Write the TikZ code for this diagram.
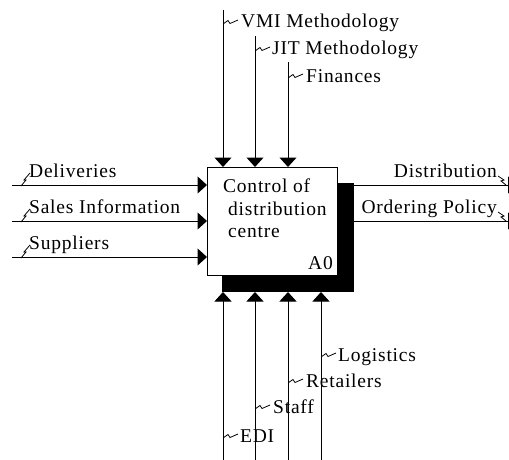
\documentclass[tikz,border=0pt]{standalone}
\usepackage{fontspec}
\setmainfont{Liberation Serif}[LetterSpace=4]
\usetikzlibrary{arrows.meta}
\begin{document}
\begin{tikzpicture}[x=1pt,y=-1pt,
  lbl/.style={font=\fontsize{19.5}{23}\selectfont, inner sep=0pt, anchor=base west},
  rlbl/.style={lbl, anchor=base east},
  flow/.style={line width=1pt, -{Triangle[length=9.5pt,width=17pt]}},
  sq/.style={line width=0.8pt},
  boxstyle/.style={draw=black, fill=white, line width=1pt, inner sep=0pt, outer sep=0pt,
                   minimum width=130pt, minimum height=108pt},
  shadowstyle/.style={fill=black, inner sep=0pt, outer sep=0pt,
                   minimum width=132pt, minimum height=109pt}
]
\clip (0,0) rectangle (509,460);
\fill[white] (0,0) rectangle (509,460);

% main box and its shadow
\node[boxstyle] (A0) at (272,221) {};
\coordinate (oi1) at (517.5,185);
\coordinate (oi2) at (517.5,221);
\draw[flow] (A0.east |- oi1) -- (oi1);
\draw[flow] (A0.east |- oi2) -- (oi2);
\node[shadowstyle] (sh) at (288,237.5) {};
\node[boxstyle] (box) at (272,221) {};

% box text
\node[lbl] (t1) at (223,192) {Control of};
\node[lbl] (t2) at (228,215) {distribution};
\node[lbl] (t3) at (228,237) {centre};
\node[rlbl] (t4) at (333,269) {A0};

% inputs (left)
\coordinate (li1) at (12,185);
\coordinate (li2) at (12,221);
\coordinate (li3) at (12,257);
\draw[flow] (li1) -- (box.west |- li1);
\draw[flow] (li2) -- (box.west |- li2);
\draw[flow] (li3) -- (box.west |- li3);
\node[lbl] (l1) at (29,177) {Deliveries};
\node[lbl] (l2) at (29,213) {Sales Information};
\node[lbl] (l3) at (29,249) {Suppliers};
\foreach \Y in {185,221,257}{
  \draw[sq] (21,\Y+1) -- (26,\Y-5) -- (24,\Y-5) -- (30,\Y-12);
}

% controls (top)
\coordinate (ci1) at (223,10);
\coordinate (ci2) at (255,36);
\coordinate (ci3) at (288,62);
\draw[flow] (ci1) -- (ci1 |- box.north);
\draw[flow] (ci2) -- (ci2 |- box.north);
\draw[flow] (ci3) -- (ci3 |- box.north);
\node[lbl] (c1) at (241,28) {VMI Methodology};
\node[lbl] (c2) at (272,55) {JIT Methodology};
\node[lbl] (c3) at (306,82) {Finances};
\foreach \X/\B in {223/28,255/55,288/82}{
  \draw[sq] (\X,\B-4) -- (\X+5,\B-7.5) -- (\X+7,\B-4.5) -- (\X+15,\B-8);
}

% outputs (right)
\node[rlbl] (o1) at (497,177) {Distribution};
\node[rlbl] (o2) at (497,213) {Ordering Policy};
\foreach \Y in {185,221}{
  \draw[sq] (498,\Y-9) -- (504,\Y-5) -- (501,\Y-4) -- (506,\Y);
}

% mechanisms (bottom)
\coordinate (mi1) at (223,462);
\coordinate (mi2) at (255,462);
\coordinate (mi3) at (288,462);
\coordinate (mi4) at (321,462);
\draw[flow] (mi1) -- (mi1 |- sh.south);
\draw[flow] (mi2) -- (mi2 |- sh.south);
\draw[flow] (mi3) -- (mi3 |- sh.south);
\draw[flow] (mi4) -- (mi4 |- sh.south);
\node[lbl] (m4) at (338,361) {Logistics};
\node[lbl] (m3) at (306,387) {Retailers};
\node[lbl] (m2) at (273,413) {Staff};
\node[lbl] (m1) at (240,442) {EDI};
\foreach \X/\B in {223/442,255/413,288/387,321/361}{
  \draw[sq] (\X,\B-4) -- (\X+5,\B-7.5) -- (\X+7,\B-4.5) -- (\X+15,\B-8);
}
\end{tikzpicture}
\end{document}
